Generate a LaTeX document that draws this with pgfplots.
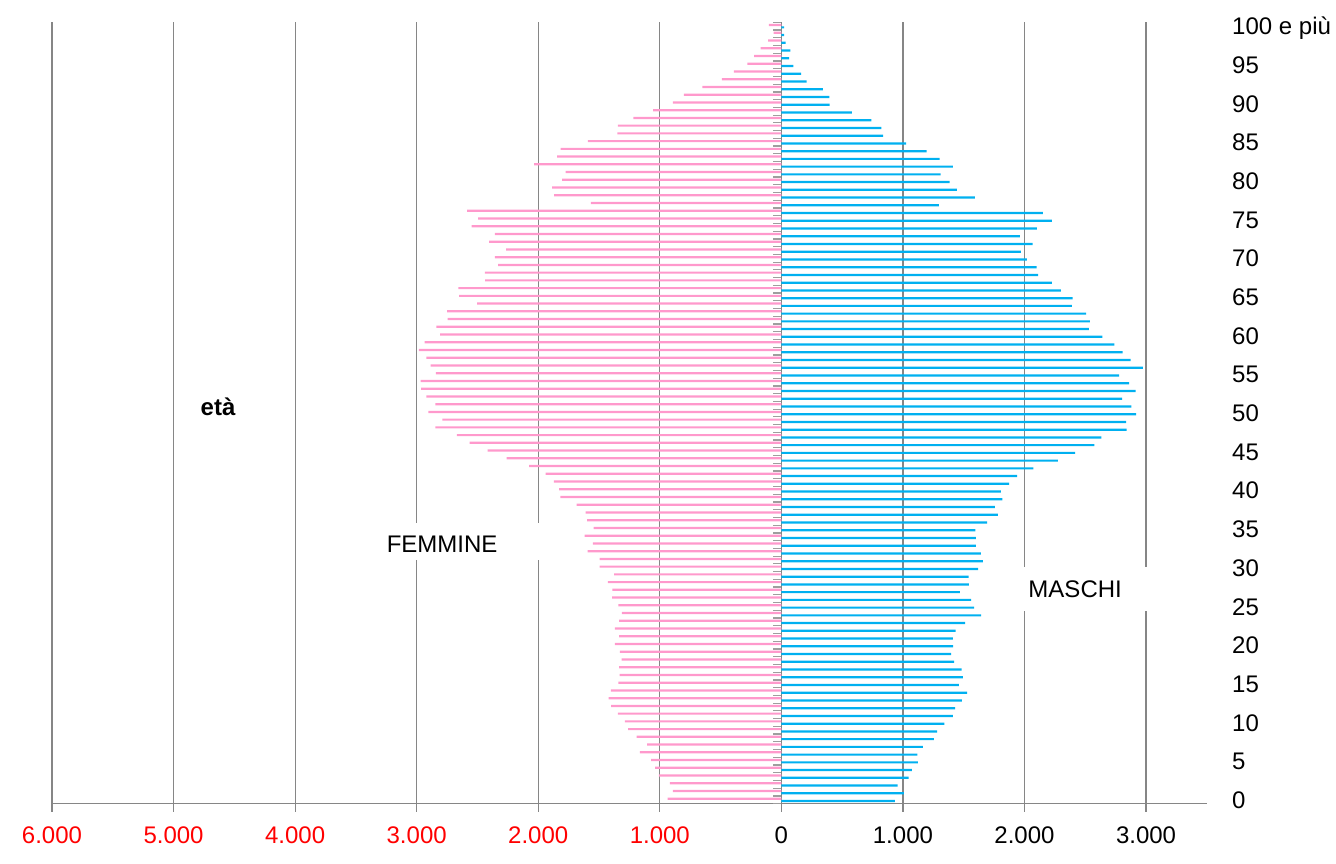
\documentclass[border=0pt]{standalone}
\usepackage{pgfplots}
\pgfplotsset{compat=1.18}
\usepackage{pgfplotstable}
\usepackage{fontspec}
\setmainfont{Liberation Sans}
\definecolor{pinkc}{RGB}{255,153,204}
\definecolor{bluec}{RGB}{0,176,240}
\definecolor{gridc}{RGB}{134,134,134}

\pgfplotstableread{
age F M
0 936 934
1 892 1008
2 917 956
3 1008 1047
4 1039 1074
5 1072 1123
6 1163 1118
7 1105 1164
8 1191 1255
9 1260 1282
10 1287 1340
11 1345 1411
12 1401 1430
13 1420 1485
14 1403 1529
15 1340 1460
16 1331 1493
17 1334 1482
18 1315 1422
19 1329 1397
20 1370 1414
21 1334 1411
22 1370 1433
23 1334 1512
24 1312 1644
25 1340 1586
26 1392 1562
27 1390 1468
28 1428 1542
29 1376 1540
30 1494 1619
31 1494 1658
32 1594 1641
33 1550 1600
34 1619 1600
35 1544 1597
36 1597 1693
37 1610 1781
38 1685 1756
39 1818 1819
40 1829 1805
41 1872 1874
42 1940 1940
43 2075 2074
44 2260 2274
45 2417 2416
46 2565 2575
47 2670 2633
48 2846 2841
49 2788 2836
50 2904 2918
51 2846 2879
52 2920 2803
53 2964 2915
54 2967 2860
55 2843 2778
56 2885 2973
57 2920 2874
58 2981 2808
59 2934 2740
60 2808 2641
61 2838 2529
62 2746 2537
63 2750 2507
64 2502 2389
65 2651 2397
66 2656 2299
67 2436 2225
68 2439 2112
69 2331 2099
70 2356 2019
71 2265 1970
72 2405 2066
73 2356 1962
74 2549 2101
75 2494 2225
76 2585 2151
77 1566 1296
78 1869 1592
79 1885 1444
80 1803 1384
81 1775 1310
82 2034 1411
83 1845 1301
84 1815 1195
85 1591 1027
86 1348 838
87 1345 822
88 1218 740
89 1055 581
90 892 397
91 801 395
92 649 342
93 489 208
94 390 162
95 279 99
96 224 63
97 171 74
98 108 36
99 64 22
100 102 22
}\pyr

\begin{document}
\begin{tikzpicture}
\path[use as bounding box] (0,0) rectangle (668pt,431.5pt);
\begin{axis}[
  at={(26pt,29.65pt)}, anchor=south west,
  scale only axis, width=577.4pt, height=390.7pt,
  xmin=-6000, xmax=3500, ymin=-0.5, ymax=100.5,
  axis x line*=bottom,
  y axis line style={draw=none},
  x axis line style={draw=gridc, line width=0.6pt},
  xmajorgrids,
  grid style={draw=gridc, line width=0.6pt},
  xtick={-6000,-5000,-4000,-3000,-2000,-1000,0,1000,2000,3000},
  xticklabels={{\textcolor{red}{6.000}},{\textcolor{red}{5.000}},{\textcolor{red}{4.000}},{\textcolor{red}{3.000}},{\textcolor{red}{2.000}},{\textcolor{red}{1.000}},0,1.000,2.000,3.000},
  x tick style={draw=gridc, line width=0.6pt},
  major tick length=4pt,
  tick align=outside,
  ytick={0,5,10,15,20,25,30,35,40,45,50,55,60,65,70,75,80,85,90,95,100},
  yticklabels={0,5,10,15,20,25,30,35,40,45,50,55,60,65,70,75,80,85,90,95,{100 e più}},
  y tick style={draw=none},
  yticklabel pos=right,
  tick label style={font=\fontsize{12}{14}\selectfont},
  xticklabel style={anchor=north, yshift=-3.85pt},
  yticklabel style={anchor=base west, inner sep=0pt, xshift=8.5pt, yshift=-4.3pt},
  clip=false,
]
\addplot[xbar, bar width=1.1pt, bar shift=0.55pt, fill=pinkc, draw=none] table[x expr=-\thisrow{F}, y=age] {\pyr};
\addplot[xbar, bar width=1.1pt, bar shift=-0.6pt, fill=bluec, draw=none] table[x=M, y=age] {\pyr};
\foreach \k in {0,...,101} {
  \pgfmathsetmacro\yy{\k-0.5}
  \edef\temp{\noexpand\draw[gridc!80, line width=0.6pt] (axis cs:-66,\yy) -- (axis cs:0,\yy);}
  \temp
}
\fill[white] (axis cs:-3342,31.0) rectangle (axis cs:-1977,35.78);
\node[font=\fontsize{12}{14}\selectfont] at (axis cs:-2791,33.07) {FEMMINE};
\fill[white] (axis cs:1898,24.4) rectangle (axis cs:3050,30.1);
\node[font=\fontsize{12}{14}\selectfont] at (axis cs:2417,27.25) {MASCHI};
\node[font=\bfseries\fontsize{12}{14}\selectfont] at (axis cs:-4634,50.78) {età};
\end{axis}
\end{tikzpicture}
\end{document}
